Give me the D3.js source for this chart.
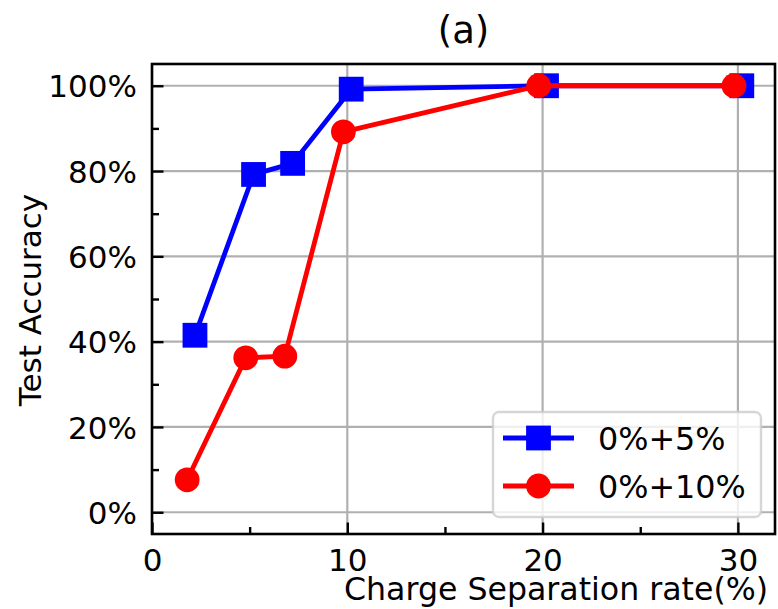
<!DOCTYPE html>
<html>
<head>
<meta charset="utf-8">
<script src="https://cdn.jsdelivr.net/npm/d3@7"></script>
<style>
  html, body { margin: 0; padding: 0; background: #fff; }
  svg { display: block; font-family: "DejaVu Sans", sans-serif; }
</style>
</head>
<body>
<svg id="chart" width="778" height="609"></svg>
<script>
// Charge separation rate (%) and test accuracy (%) for each noise setting
const rate5 = [2.2, 5.2, 7.2, 10.2, 20.2, 30.2];
const acc5 = [41.5, 79.2, 81.8, 99.2, 100, 100];
const rate10 = [1.8, 4.8, 6.8, 9.8, 19.8, 29.8];
const acc10 = [7.6, 36.2, 36.6, 89.2, 100, 100];

const seriesNames = ["0%+5%", "0%+10%"];
const xMajorTicks = [0, 10, 20, 30];
const xMinorTicks = [5, 15, 25];
const yMajorTicks = [0, 20, 40, 60, 80, 100];
const yMinorTicks = [10, 30, 50, 70, 90];

const titleText = "(a)";
const xLabelText = "Charge Separation rate(%)";
const yLabelText = "Test Accuracy";

const svg = d3.select("#chart");
const pLeft = 152, pRight = 775, pTop = 64, pBottom = 534;
const fs = 31;

const x = d3.scaleLinear().domain([0, 31.9]).range([pLeft, pRight]);
const y = d3.scaleLinear().domain([-5.1, 105.1]).range([pBottom, pTop]);

// grid lines
const grid = svg.append("g").attr("stroke", "#b0b0b0").attr("stroke-width", 2.2);
xMajorTicks.forEach(v => grid.append("line")
  .attr("x1", x(v)).attr("x2", x(v)).attr("y1", pTop).attr("y2", pBottom));
yMajorTicks.forEach(v => grid.append("line")
  .attr("x1", pLeft).attr("x2", pRight).attr("y1", y(v)).attr("y2", y(v)));

// axes with inward ticks
function styleAxis(g) {
  g.select(".domain").remove();
  g.selectAll(".tick line").attr("stroke", "#000").attr("stroke-width", 2.4);
  g.selectAll(".tick text").attr("fill", "#000")
    .attr("font-size", fs).attr("font-family", "DejaVu Sans, sans-serif");
}
svg.append("g").attr("transform", `translate(0,${pBottom})`)
  .call(d3.axisBottom(x).tickValues(xMajorTicks).tickSize(-11.5).tickPadding(15).tickFormat(d3.format("d")))
  .call(styleAxis);
svg.append("g").attr("transform", `translate(0,${pBottom})`)
  .call(d3.axisBottom(x).tickValues(xMinorTicks).tickSize(-7).tickFormat(""))
  .call(styleAxis);
svg.append("g").attr("transform", `translate(${pLeft},0)`)
  .call(d3.axisLeft(y).tickValues(yMajorTicks).tickSize(-11.5).tickPadding(15).tickFormat(d => d + "%"))
  .call(styleAxis)
  .selectAll(".tick text").attr("dy", "0.36em");
svg.append("g").attr("transform", `translate(${pLeft},0)`)
  .call(d3.axisLeft(y).tickValues(yMinorTicks).tickSize(-7).tickFormat(""))
  .call(styleAxis);

// series
const line = d3.line().x(d => x(d[0])).y(d => y(d[1]));
const data5 = rate5.map((r, i) => [r, acc5[i]]);
const data10 = rate10.map((r, i) => [r, acc10[i]]);
const blue = "#0000ff", red = "#ff0000";
const mk = 24.8;

svg.append("path").datum(data5).attr("d", line)
  .attr("fill", "none").attr("stroke", blue).attr("stroke-width", 4.8).attr("stroke-linejoin", "round");
svg.append("g").selectAll("rect").data(data5).join("rect")
  .attr("x", d => x(d[0]) - mk / 2).attr("y", d => y(d[1]) - mk / 2)
  .attr("width", mk).attr("height", mk).attr("fill", blue);

svg.append("path").datum(data10).attr("d", line)
  .attr("fill", "none").attr("stroke", red).attr("stroke-width", 4.8).attr("stroke-linejoin", "round");
svg.append("g").selectAll("circle").data(data10).join("circle")
  .attr("cx", d => x(d[0])).attr("cy", d => y(d[1]))
  .attr("r", mk / 2).attr("fill", red);

// frame
svg.append("rect").attr("x", pLeft).attr("y", pTop)
  .attr("width", pRight - pLeft).attr("height", pBottom - pTop)
  .attr("fill", "none").attr("stroke", "#000").attr("stroke-width", 2.6);

// legend
const lg = svg.append("g");
lg.append("rect").attr("x", 493).attr("y", 412).attr("width", 268).attr("height", 105)
  .attr("rx", 6).attr("ry", 6)
  .attr("fill", "#fff").attr("fill-opacity", 0.8)
  .attr("stroke", "#cccccc").attr("stroke-opacity", 0.8).attr("stroke-width", 2.4);
const rows = [
  { name: seriesNames[0], color: blue, shape: "square", cy: 438 },
  { name: seriesNames[1], color: red, shape: "circle", cy: 486 }
];
rows.forEach(r => {
  lg.append("line").attr("x1", 503).attr("x2", 574).attr("y1", r.cy).attr("y2", r.cy)
    .attr("stroke", r.color).attr("stroke-width", 4.8);
  if (r.shape === "square") {
    lg.append("rect").attr("x", 538.5 - mk / 2).attr("y", r.cy - mk / 2)
      .attr("width", mk).attr("height", mk).attr("fill", r.color);
  } else {
    lg.append("circle").attr("cx", 538.5).attr("cy", r.cy).attr("r", mk / 2).attr("fill", r.color);
  }
  lg.append("text").attr("x", 598).attr("y", r.cy + 11.5)
    .attr("font-size", 31.8).attr("fill", "#000").text(r.name);
});

// titles
svg.append("text").attr("x", (pLeft + pRight) / 2).attr("y", 43)
  .attr("text-anchor", "middle").attr("font-size", 37).attr("fill", "#000").text(titleText);
svg.append("text").attr("x", 344).attr("y", 600)
  .attr("font-size", 31.6).attr("fill", "#000").text(xLabelText);
svg.append("text").attr("transform", "translate(41,300) rotate(-90)")
  .attr("text-anchor", "middle").attr("font-size", fs).attr("fill", "#000").text(yLabelText);
</script>
</body>
</html>
